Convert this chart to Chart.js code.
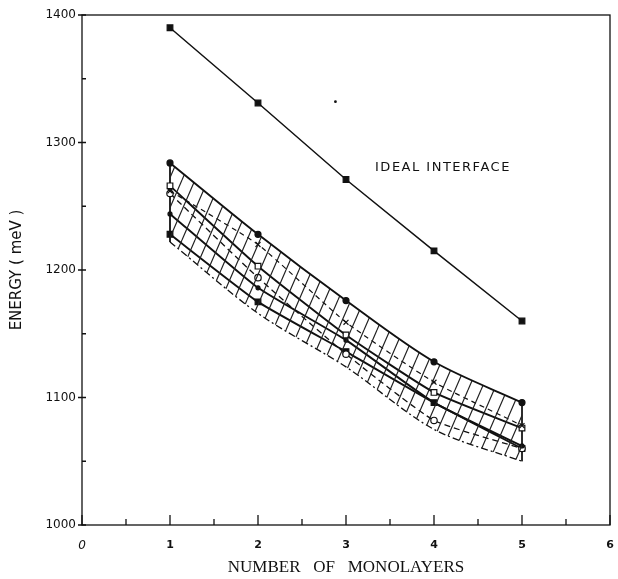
<!DOCTYPE html>
<html>
<head>
<meta charset="utf-8">
<script src="https://cdn.jsdelivr.net/npm/chart.js@4"></script>
<style>
  html, body { margin: 0; padding: 0; background: #fff; }
  canvas { display: block; }
</style>
</head>
<body>
<canvas id="energyChart" width="618" height="579"></canvas>
<script>
// values (energy in meV)
const layers = [1, 2, 3, 4, 5];
const idealInterface = [1390, 1331, 1271, 1215, 1160];
const bandUpper = [1284, 1228, 1176, 1128, 1096];      // filled circles
const crossSeries = [1262, 1220, 1159, 1112, 1078];    // x marks, dashed
const openSquareSeries = [1266, 1203, 1149, 1104, 1076];
const smallDotSeries = [1244, 1186, 1145, 1096, 1062];
const openCircleSeries = [1260, 1194, 1134, 1082, 1060]; // dashed
const filledSquareSeries = [1228, 1175, 1136, 1096, 1060];
const bandLower = [1222, 1166, 1124, 1075, 1050];      // dash-dot edge
const strayDot = [{ x: 2.88, y: 1332 }];               // speck in the scan

const xTickValues = [0, 1, 2, 3, 4, 5, 6];
const xMinorTicks = [0.5, 1.5, 2.5, 3.5, 4.5, 5.5];
const yTickValues = [1000, 1100, 1200, 1300, 1400];
const yMinorTicks = [1050, 1150, 1250, 1350];

const ink = '#111';

function pts(values) {
  return layers.map((x, i) => ({ x: x, y: values[i] }));
}

// hatch pattern for the shaded band
function makeHatch() {
  const c = document.createElement('canvas');
  c.width = 13;
  c.height = 30;
  const g = c.getContext('2d');
  g.strokeStyle = '#222';
  g.lineWidth = 1.2;
  g.beginPath();
  g.moveTo(-13, 30); g.lineTo(0, 0);
  g.moveTo(0, 30); g.lineTo(13, 0);
  g.moveTo(13, 30); g.lineTo(26, 0);
  g.stroke();
  return g.createPattern(c, 'repeat');
}

function series(values, opts) {
  return Object.assign({
    data: pts(values),
    borderColor: ink,
    borderWidth: 1.9,
    pointBorderColor: ink,
    pointBackgroundColor: ink,
    pointRadius: 2.6,
    pointBorderWidth: 1.2,
    fill: false,
    tension: 0.15,
  }, opts);
}

const LOWER = 7; // index of the band's lower edge

const datasets = [
  series(idealInterface, { borderWidth: 1.5, pointStyle: 'rect', pointRadius: 4, tension: 0 }),
  series(bandUpper, { pointStyle: 'circle', pointRadius: 3, tension: 0.3,
    backgroundColor: makeHatch(), fill: { target: LOWER } }),
  series(crossSeries, { borderWidth: 1.2, borderDash: [5, 4], pointStyle: 'crossRot', pointRadius: 3.5 }),
  series(openSquareSeries, { pointStyle: 'rect', pointRadius: 4, pointBackgroundColor: '#fff' }),
  series(smallDotSeries, { pointStyle: 'circle', pointRadius: 2 }),
  series(openCircleSeries, { borderWidth: 1.3, borderDash: [6, 4], pointStyle: 'circle', pointRadius: 3.2, pointBackgroundColor: '#fff' }),
  series(filledSquareSeries, { pointStyle: 'rect', pointRadius: 4 }),
  series(bandLower, { borderWidth: 1.3, borderDash: [7, 3, 2, 3], pointRadius: 0, tension: 0.3 }),
  // vertical ends of the band
  { data: [{ x: layers[0], y: bandUpper[0] }, { x: layers[0], y: bandLower[0] }],
    borderColor: ink, borderWidth: 1.8, pointRadius: 0, fill: false },
  { data: [{ x: layers[4], y: bandUpper[4] }, { x: layers[4], y: bandLower[4] }],
    borderColor: ink, borderWidth: 1, pointRadius: 0, fill: false },
  { data: strayDot, showLine: false, pointRadius: 1.4, pointBackgroundColor: ink, pointBorderWidth: 0 },
];

// frame, inward ticks and the in-plot label
const framePlugin = {
  id: 'frame',
  afterDraw(chart) {
    const ctx = chart.ctx;
    const a = chart.chartArea;
    const x = chart.scales.x;
    const y = chart.scales.y;
    ctx.save();
    ctx.strokeStyle = ink;
    ctx.lineWidth = 1.3;
    ctx.strokeRect(a.left, a.top, a.right - a.left, a.bottom - a.top);

    ctx.beginPath();
    xTickValues.forEach(v => {
      const p = x.getPixelForValue(v);
      ctx.moveTo(p, a.bottom); ctx.lineTo(p, a.bottom - 10);
    });
    xMinorTicks.forEach(v => {
      const p = x.getPixelForValue(v);
      ctx.moveTo(p, a.bottom); ctx.lineTo(p, a.bottom - 6);
    });
    yTickValues.forEach(v => {
      const p = y.getPixelForValue(v);
      ctx.moveTo(a.left - 4, p); ctx.lineTo(a.left + 4, p);
    });
    yMinorTicks.forEach(v => {
      const p = y.getPixelForValue(v);
      ctx.moveTo(a.left, p); ctx.lineTo(a.left + 4, p);
    });
    ctx.stroke();

    ctx.fillStyle = ink;
    ctx.font = '13px "DejaVu Sans"';
    ctx.letterSpacing = '1.5px';
    ctx.textAlign = 'left';
    ctx.textBaseline = 'middle';
    ctx.fillText('IDEAL INTERFACE', x.getPixelForValue(3.33), y.getPixelForValue(1280));
    ctx.restore();
  }
};

const ctx = document.getElementById('energyChart').getContext('2d');
new Chart(ctx, {
  type: 'line',
  data: { datasets: datasets },
  options: {
    responsive: false,
    animation: false,
    devicePixelRatio: 1,
    layout: { padding: { top: 15, right: 8, left: 0, bottom: 0 } },
    plugins: { legend: { display: false }, tooltip: { enabled: false } },
    scales: {
      x: {
        type: 'linear',
        min: 0,
        max: 6,
        afterBuildTicks: s => { s.ticks = xTickValues.map(v => ({ value: v })); },
        afterFit: s => { s.height = 54; s.paddingLeft = 0; s.paddingRight = 0; },
        grid: { display: false, drawTicks: false },
        border: { display: false },
        ticks: {
          padding: 14,
          color: ink,
          callback: v => String(v),
          font: c => c.tick && c.tick.value === 0
            ? { family: 'DejaVu Sans', size: 12, style: 'italic' }
            : { family: 'DejaVu Sans', size: 11, weight: 'bold' },
        },
        title: {
          display: true,
          text: 'NUMBER   OF   MONOLAYERS',
          color: ink,
          font: { family: 'Liberation Serif', size: 17 },
          padding: { top: 0, bottom: 1 },
        },
      },
      y: {
        min: 1000,
        max: 1400,
        afterBuildTicks: s => { s.ticks = yTickValues.map(v => ({ value: v })); },
        afterFit: s => { s.width = 82; s.paddingTop = 0; s.paddingBottom = 0; },
        grid: { display: false, drawTicks: false },
        border: { display: false },
        ticks: {
          padding: 6,
          color: ink,
          callback: v => String(v),
          font: { family: 'DejaVu Sans', size: 12 },
        },
        title: {
          display: true,
          text: 'ENERGY ( meV )',
          color: ink,
          font: { family: 'DejaVu Sans', size: 15 },
          padding: { top: 8, bottom: 0 },
        },
      },
    },
  },
  plugins: [framePlugin],
});
</script>
</body>
</html>
